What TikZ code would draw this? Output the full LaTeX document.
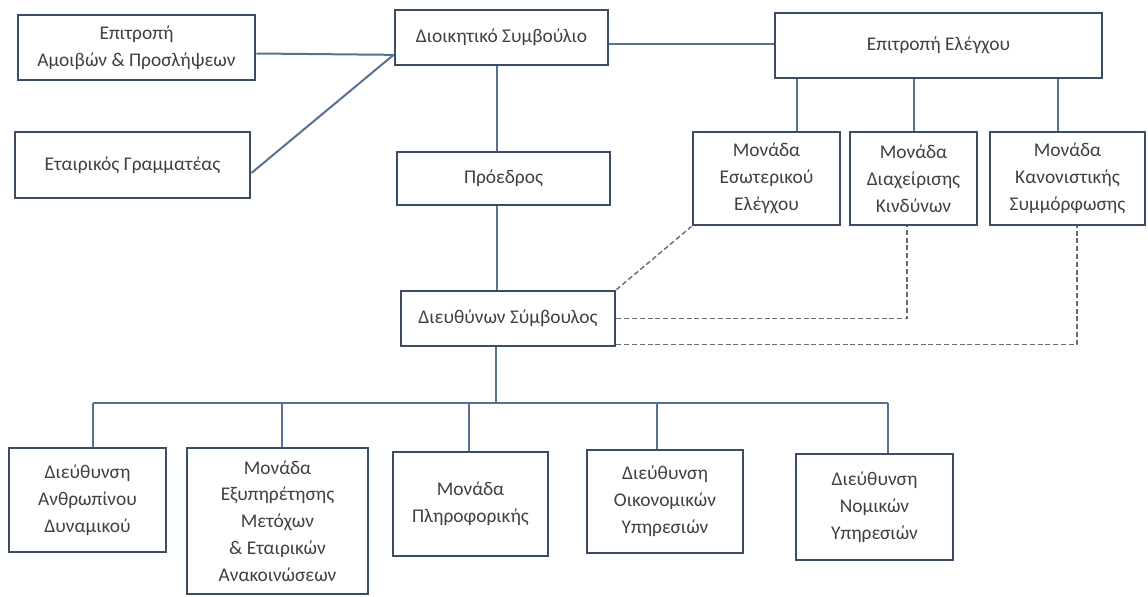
\documentclass[tikz,border=0pt]{standalone}
\usepackage{fontspec}
\setmainfont{Carlito}
\usepackage{tikz}
\usetikzlibrary{calc}
\definecolor{boxline}{RGB}{60,76,98}
\definecolor{orgline}{RGB}{88,112,146}
\definecolor{dashline}{RGB}{105,105,112}
\tikzset{
  font={\fontsize{9.7pt}{13.4pt}\selectfont},
  unit/.style={draw=boxline, line width=1.4pt, align=center, text=black!75},
  link/.style={draw=orgline, line width=1pt},
  dotlink/.style={draw=dashline, line width=0.7pt, dash pattern=on 2.5pt off 1.4pt}}

\begin{document}
\begin{tikzpicture}[x=0.5pt,y=-0.5pt]
\tikzstyle{every node}+=[inner sep=0pt]
\useasboundingbox (0,0) rectangle (1148,596);
\node [unit, minimum width=118.5pt, minimum height=32.5pt] (amoib) at (136.5,47.5) {Επιτροπή\\Αμοιβών \& Προσλήψεων};
\node [unit, minimum width=117.5pt, minimum height=33pt] (gram) at (132.5,165) {Εταιρικός Γραμματέας};
\node [unit, minimum width=106.5pt, minimum height=27.5pt] (dioik) at (501.5,37.5) {Διοικητικό Συμβούλιο};
\node [unit, minimum width=163.5pt, minimum height=32.5pt] (elegx) at (938.5,45.5) {Επιτροπή Ελέγχου};
\node [unit, minimum width=106.5pt, minimum height=26.5pt] (proed) at (503.5,178.5) {Πρόεδρος};
\node [unit, minimum width=73.5pt, minimum height=46.5pt] (esot) at (766.5,178.5) {Μονάδα\\Εσωτερικού\\Ελέγχου};
\node [unit, minimum width=63.5pt, minimum height=46.5pt] (kind) at (913.5,178.5) {Μονάδα\\Διαχείρισης\\Κινδύνων};
\node [unit, minimum width=77.5pt, minimum height=46.5pt] (kanon) at (1067.5,178.5) {Μονάδα\\Κανονιστικής\\Συμμόρφωσης};
\node [unit, minimum width=107pt, minimum height=27.5pt] (ceo) at (508,318.5) {Διευθύνων Σύμβουλος};
\node [unit, minimum width=78.5pt, minimum height=52pt] (anthr) at (87.5,500) {Διεύθυνση\\Ανθρωπίνου\\Δυναμικού};
\node [unit, minimum width=90.5pt, minimum height=73pt] (metox) at (277.5,521) {Μονάδα\\Εξυπηρέτησης\\Μετόχων\\\& Εταιρικών\\Ανακοινώσεων};
\node [unit, minimum width=77.5pt, minimum height=52pt] (pliro) at (470.5,504) {Μονάδα\\Πληροφορικής};
\node [unit, minimum width=78pt, minimum height=51.5pt] (oikon) at (665,501.5) {Διεύθυνση\\Οικονομικών\\Υπηρεσιών};
\node [unit, minimum width=78.5pt, minimum height=53pt] (nomik) at (874.5,507) {Διεύθυνση\\Νομικών\\Υπηρεσιών};
\coordinate (dioikin) at ($(dioik.south west)!0.2!(dioik.north west)$);
\coordinate (bus) at ($(ceo.south)+(-12,56)$);
\coordinate (ceolow) at ([yshift=1.5pt]ceo.south east);
\draw [link] ([yshift=-3pt]amoib.east) -- (dioikin);
\draw [link] ([yshift=-4pt]gram.east) -- (dioikin);
\draw [link] ([yshift=-3pt]dioik.east) -- ([yshift=-3pt]dioik.east -| elegx.west);
\draw [link] ([xshift=-2.5pt]dioik.south) -- ([xshift=-2.5pt]dioik.south |- proed.north);
\draw [link] ([xshift=-3.5pt]proed.south) -- ([xshift=-3.5pt]proed.south |- ceo.north);
\draw [link] ([xshift=15pt]esot.north) -- ([xshift=15pt]esot.north |- elegx.south);
\draw [link] (kind.north) -- (kind.north |- elegx.south);
\draw [link] ([xshift=-5pt]kanon.north) -- ([xshift=-5pt]kanon.north |- elegx.south);
\draw [link] (ceo.south -| bus) -- (bus);
\draw [link] ([xshift=2.75pt]anthr.north |- bus) -- ([xshift=6.75pt]nomik.north |- bus);
\foreach \n/\s in {anthr/2.75pt, metox/2.25pt, pliro/-0.75pt, oikon/-4pt, nomik/6.75pt}
  \draw [link] ([xshift=\s]\n.north) -- ([xshift=\s]\n.north |- bus);
\draw [dotlink] (ceo.north east) -- (esot.south west);
\draw [dotlink] (ceo.east) -- ([xshift=-3.25pt]kind.south |- ceo.east) -- ([xshift=-3.25pt]kind.south);
\draw [dotlink] (ceolow) -- ([xshift=4.75pt]kanon.south |- ceolow) -- ([xshift=4.75pt]kanon.south);
\end{tikzpicture}
\end{document}
